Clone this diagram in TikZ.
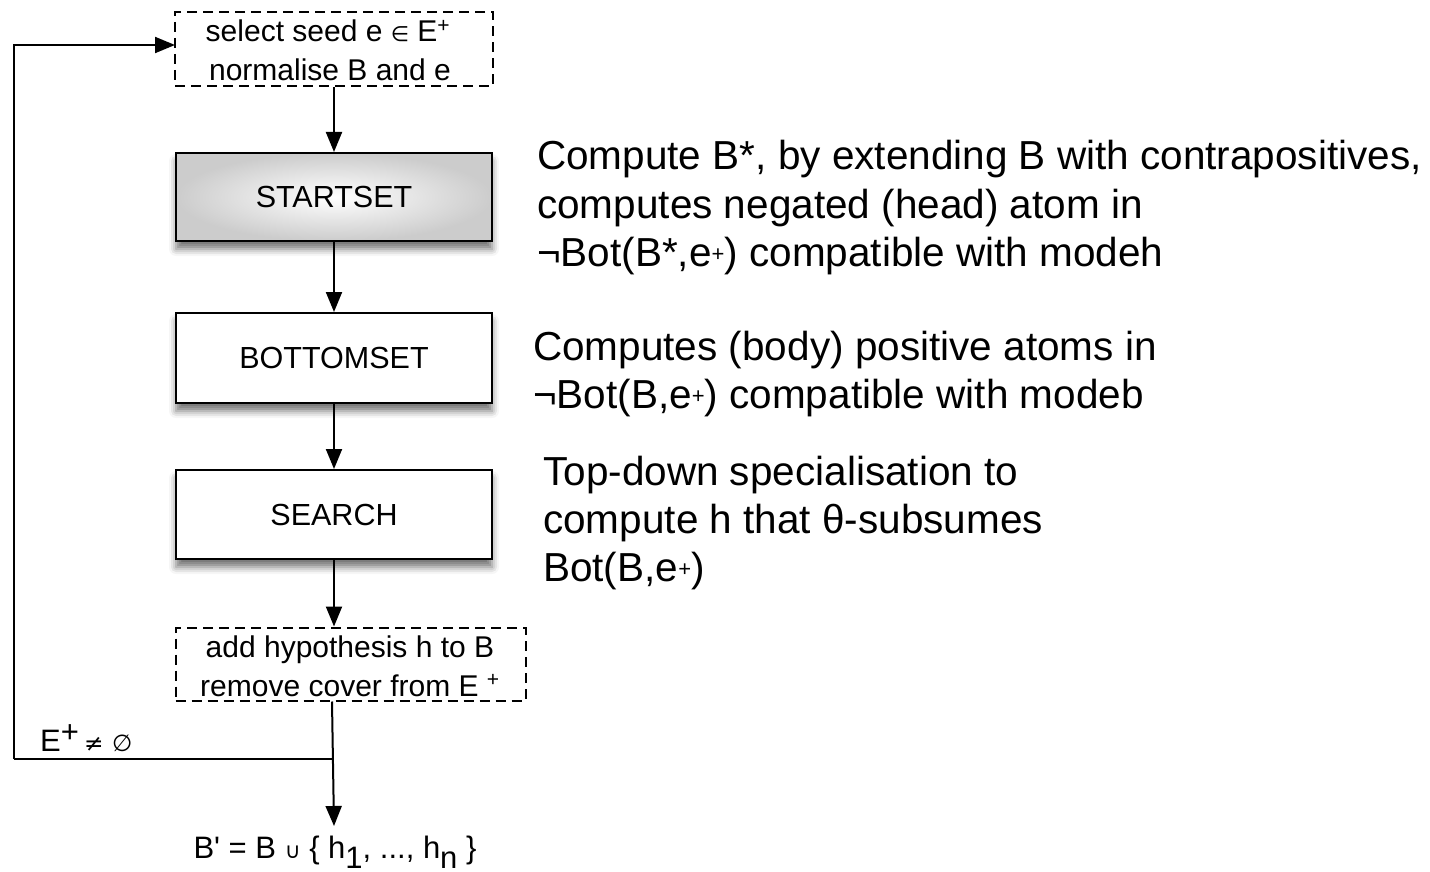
\documentclass[tikz,border=0pt]{standalone}
\usepackage{fontspec}
\setmainfont{Liberation Sans}
\newfontfamily\symfont{DejaVu Sans}
\usetikzlibrary{arrows.meta,shadows.blur}

% small helpers for the symbols and raised plus signs
\newcommand{\sym}[2][0.7]{{\symfont\scalebox{#1}{#2}}}
\newcommand{\plus}{\raisebox{5pt}{\fontsize{22}{22}\selectfont +}}

\begin{document}
\begin{tikzpicture}[x=1pt,y=-1pt]
\tikzset{
  stepbox/.style={draw, line width=2pt, minimum width=316pt, fill=white,
    font=\fontsize{30.5}{30.5}\selectfont,
    blur shadow={shadow xshift=0pt, shadow yshift=-8pt, shadow blur radius=7pt,
      shadow opacity=55}},
  dashbox/.style={draw, line width=2pt, dash pattern=on 10pt off 6pt},
  boxtext/.style={anchor=base, inner sep=0pt, font=\fontsize{30}{30}\selectfont},
  conn/.style={line width=2pt, -{Triangle[length=20pt,width=16pt]}},
  wire/.style={line width=2pt},
  note/.style={anchor=base west, inner sep=0pt, font=\fontsize{40.5}{40.5}\selectfont}
}
\useasboundingbox (0,0) rectangle (1430,872);

% seed selection
\node[dashbox, minimum width=318pt, minimum height=74pt] (seed) at (334,49) {};
\node[boxtext] (seedA) at (328,42) {select seed e \sym{∈} E\textsuperscript{+}};
\node[boxtext] (seedB) at (330,81) {normalise B and e};

% main steps
\node[stepbox, minimum height=88pt, fill=none, shading=radial, inner color=white,
  outer color=gray!40] (start) at (334,197) {STARTSET};
\node[stepbox, minimum height=90pt] (bottom) at (334,358) {BOTTOMSET};
\node[stepbox, minimum height=89pt] (search) at (334,514.5) {SEARCH};

% hypothesis update
\node[dashbox, minimum width=350pt, minimum height=73pt] (cover) at (350.5,664) {};
\node[boxtext] (coverA) at (350,657) {add hypothesis h to B};
\node[boxtext] (coverB) at (350,696) {remove cover from E \textsuperscript{+}};

% result
\node[anchor=base, inner sep=0pt, font=\fontsize{31}{31}\selectfont] (result) at (335,858)
  {B\textquotesingle{} = B \sym{∪} \{ h\raisebox{-10pt}{1}, ..., h\raisebox{-10pt}{n} \}};
\coordinate (resin) at (334,826);

% loop back
\coordinate (split) at (332,759);
\coordinate (corner) at (14,759);
\coordinate (seedin) at (175,45);
\node[anchor=base west, inner sep=0pt, font=\fontsize{31}{31}\selectfont] (cond) at (40,751)
  {E\raisebox{9pt}{\fontsize{31}{31}\selectfont +}\,\sym[0.75]{≠} \sym[0.75]{∅}};

% connectors
\draw[conn] (seed.south -| start.north) -- (start.north);
\draw[conn] (start.south) -- (bottom.north);
\draw[conn] (bottom.south) -- (search.north);
\draw[conn] (search.south) -- (search.south |- cover.north);
\draw[conn] (cover.south -| split) -- (resin);
\draw[wire] (split) -- (corner);
\draw[conn] (corner) |- (seedin);

% explanations
\node[note] (n1) at (537,170) {Compute B*, by extending B with contrapositives,};
\node[note] (n2) at (537,218) {computes negated (head) atom in};
\node[note] (n3) at (537,266) {¬Bot(B*,e\plus) compatible with modeh};
\node[note] (n4) at (533,360) {Computes (body) positive atoms in};
\node[note] (n5) at (533,408) {¬Bot(B,e\plus) compatible with modeb};
\node[note] (n6) at (543,485) {Top-down specialisation to};
\node[note] (n7) at (543,533) {compute h that θ-subsumes};
\node[note] (n8) at (543,581) {Bot(B,e\plus)};
\end{tikzpicture}
\end{document}
